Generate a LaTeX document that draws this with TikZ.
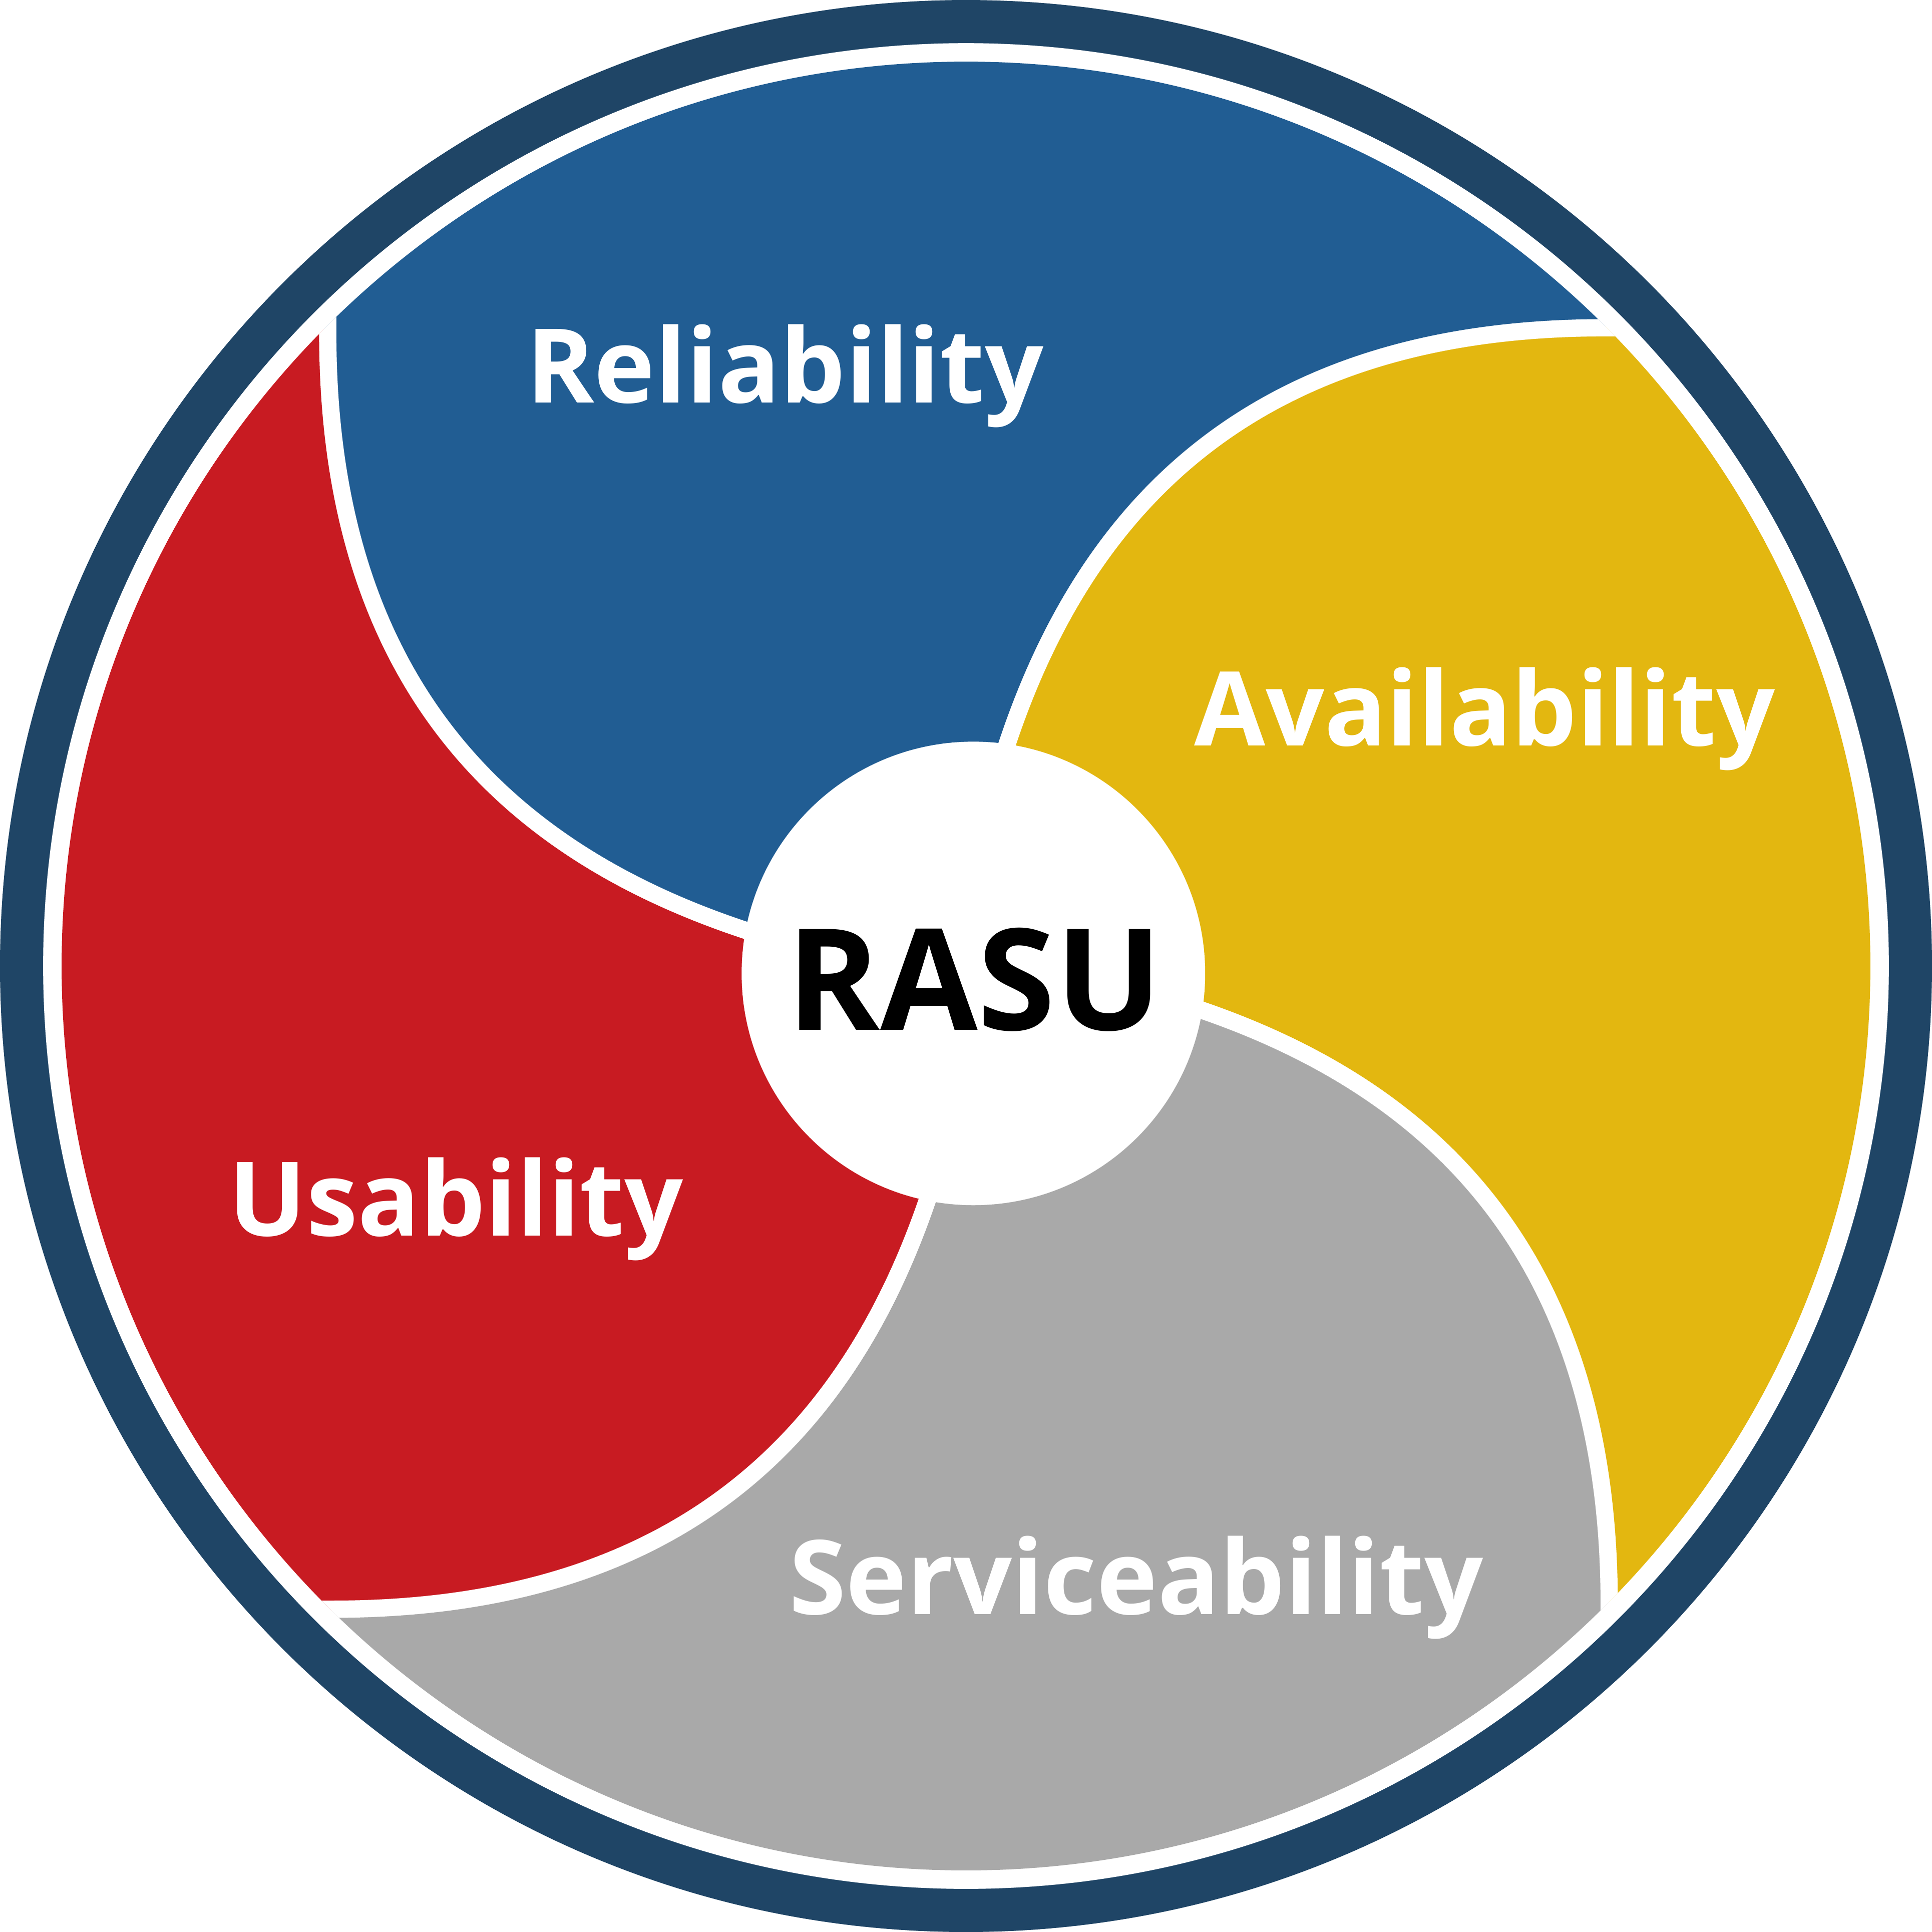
\documentclass[tikz,border=0pt]{standalone}
\usepackage{fontspec}
\setmainfont{Open Sans}
\definecolor{navy}{HTML}{1F4566}
\definecolor{cblue}{HTML}{215D93}
\definecolor{cyel}{HTML}{E3B710}
\definecolor{cred}{HTML}{C81B22}
\definecolor{cgrey}{HTML}{A9A9A9}
\begin{document}
\begin{tikzpicture}[x=0.01cm,y=-0.01cm,
  lbl/.style={anchor=base,text=white,font=\fontsize{23.8}{28}\selectfont\bfseries},
  sep/.style={white,line width=0.14cm}]
\useasboundingbox (0,0) rectangle (1568,1568);
\fill[navy] (784,784) circle[radius=784];
\fill[white] (784,784) circle[radius=749];
\begin{scope}
\clip (784,784) circle[radius=734];
\fill[cblue] (605,755) .. controls (430,697) and (266,572) .. (266,270) -- (-100,-100) -- (1700,-100) -- (1302,266) .. controls (1000,266) and (875,430) .. (817,605) -- (786,786) -- cycle;
\fill[cyel] (817,605) .. controls (875,430) and (1000,266) .. (1302,266) -- (1700,-100) -- (1700,1700) -- (1306,1302) .. controls (1306,1000) and (1142,875) .. (967,817) -- (786,786) -- cycle;
\fill[cgrey] (967,817) .. controls (1142,875) and (1306,1000) .. (1306,1302) -- (1700,1700) -- (-100,1700) -- (270,1306) .. controls (572,1306) and (697,1142) .. (755,967) -- (786,786) -- cycle;
\fill[cred] (755,967) .. controls (697,1142) and (572,1306) .. (270,1306) -- (-100,1700) -- (-100,-100) -- (266,270) .. controls (266,572) and (430,697) .. (605,755) -- (786,786) -- cycle;
\draw[sep] (786,786) -- (817,605) .. controls (875,430) and (1000,266) .. (1302,266) -- (1400,266);
\draw[sep] (786,786) -- (967,817) .. controls (1142,875) and (1306,1000) .. (1306,1302) -- (1306,1400);
\draw[sep] (786,786) -- (755,967) .. controls (697,1142) and (572,1306) .. (270,1306) -- (170,1306);
\draw[sep] (786,786) -- (605,755) .. controls (430,697) and (266,572) .. (266,270) -- (266,170);
\end{scope}
\node[circle,fill=white,minimum size=3.76cm,inner sep=0] (c) at (790,790) {};
\node[anchor=base,font=\fontsize{32.6}{38}\selectfont\bfseries] (rasu) at (791,836) {RASU};
\node[lbl] (r) at (637,327) {Reliability};
\node[lbl] (a) at (1205,605) {Availability};
\node[lbl] (u) at (370,1003) {Usability};
\node[lbl] (s) at (922,1310) {Serviceability};
\end{tikzpicture}
\end{document}
